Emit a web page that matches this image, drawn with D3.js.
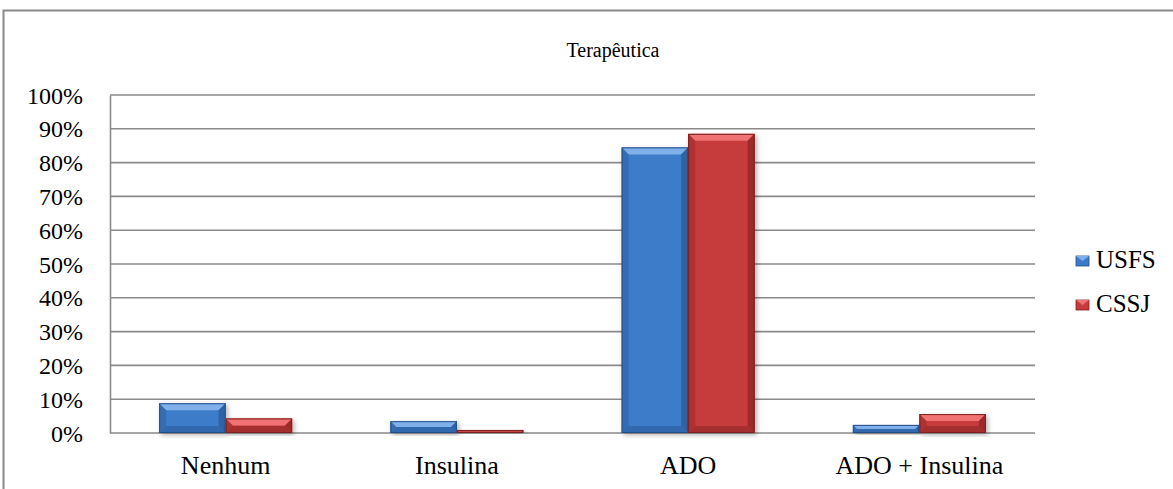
<!DOCTYPE html>
<html>
<head>
<meta charset="utf-8">
<script src="https://cdn.jsdelivr.net/npm/d3@7"></script>
<style>
  html, body { margin: 0; padding: 0; background: #fff; }
  svg { display: block; font-family: "Liberation Serif", "Times New Roman", serif; }
</style>
</head>
<body>
<svg id="chart" width="1173" height="489"></svg>
<script>
// Therapy distribution by health unit
const categories = ["Nenhum", "Insulina", "ADO", "ADO + Insulina"];
const seriesNames = ["USFS", "CSSJ"];
const usfsValues = [8.8, 3.5, 84.5, 2.4];
const cssjValues = [4.3, 0.9, 88.5, 5.6];
const yTicks = [0, 10, 20, 30, 40, 50, 60, 70, 80, 90, 100];
const title = "Terapêutica";

const palette = {
  USFS: { main: "#3d7bc9", light: "#7fb0ea", dark: "#2f64a6", darker: "#24508a" },
  CSSJ: { main: "#c63a3a", light: "#f07272", dark: "#9c2c2c", darker: "#7d2222" }
};

const svg = d3.select("#chart");
const W = 1173, H = 489;
const plot = { left: 110, right: 1035, top: 95, bottom: 433 };
const serif = "Liberation Serif, Times New Roman, serif";

// outer chart frame (continues past the bottom/right edge)
svg.append("rect")
  .attr("x", 3.5).attr("y", 10.5)
  .attr("width", W + 20).attr("height", H + 20)
  .attr("fill", "none").attr("stroke", "#8a8a8a").attr("stroke-width", 2);

const x0 = d3.scaleBand().domain(categories).range([plot.left, plot.right]).paddingInner(0).paddingOuter(0);
const groupWidth = x0.bandwidth() * 0.575;
const x1 = d3.scaleBand().domain(seriesNames).range([0, groupWidth]).padding(0);
const y = d3.scaleLinear().domain([0, 100]).range([plot.bottom, plot.top]);

// gridlines
svg.append("g").selectAll("line").data(yTicks).join("line")
  .attr("x1", plot.left).attr("x2", plot.right)
  .attr("y1", d => y(d)).attr("y2", d => y(d))
  .attr("stroke", "#8a8a8a").attr("stroke-width", 1.6);

// y axis
const yAxis = d3.axisLeft(y).tickValues(yTicks).tickSize(0).tickFormat(d => d + "%");
const gy = svg.append("g").attr("transform", `translate(${plot.left},0)`).call(yAxis);
gy.select(".domain").attr("stroke", "#8a8a8a").attr("stroke-width", 1.6);
gy.selectAll(".tick text")
  .attr("x", -27).attr("dy", "0.34em").attr("font-size", 24).attr("fill", "#000")
  .attr("font-family", serif);

// x axis labels
const xAxis = d3.axisBottom(x0).tickSize(0);
const gx = svg.append("g").attr("transform", `translate(0,${plot.bottom})`).call(xAxis);
gx.select(".domain").remove();
gx.selectAll(".tick text")
  .attr("dy", 0).attr("y", 41).attr("font-size", 26).attr("fill", "#000")
  .attr("font-family", serif);

// shadow filter for the bars
const defs = svg.append("defs");
const f = defs.append("filter").attr("id", "shadow").attr("x", "-20%").attr("y", "-20%").attr("width", "140%").attr("height", "140%");
f.append("feGaussianBlur").attr("in", "SourceAlpha").attr("stdDeviation", 2.5);
f.append("feOffset").attr("dx", 2).attr("dy", 2).attr("result", "b");
f.append("feComponentTransfer").append("feFuncA").attr("type", "linear").attr("slope", 0.3);
const fm = f.append("feMerge");
fm.append("feMergeNode");
fm.append("feMergeNode").attr("in", "SourceGraphic");

// bevelled bar drawing
function bevelBar(g, bx, by, w, h, c) {
  if (h <= 0) return;
  const b = Math.min(7, h / 2, w / 2);
  const x2 = bx + w, y2 = by + h;
  const pts = arr => arr.map(p => p.join(",")).join(" ");
  const grp = g.append("g").attr("filter", "url(#shadow)");
  grp.append("rect").attr("x", bx).attr("y", by).attr("width", w).attr("height", h).attr("fill", c.main);
  grp.append("polygon").attr("points", pts([[bx, by], [x2, by], [x2 - b, by + b], [bx + b, by + b]])).attr("fill", c.light);
  grp.append("polygon").attr("points", pts([[bx, by], [bx + b, by + b], [bx + b, y2 - b], [bx, y2]])).attr("fill", c.dark).attr("opacity", 0.6);
  grp.append("polygon").attr("points", pts([[x2, by], [x2, y2], [x2 - b, y2 - b], [x2 - b, by + b]])).attr("fill", c.dark);
  grp.append("polygon").attr("points", pts([[bx, y2], [x2, y2], [x2 - b, y2 - b], [bx + b, y2 - b]])).attr("fill", c.dark).attr("opacity", 0.8);
  grp.append("rect").attr("x", bx + 0.5).attr("y", by + 0.5).attr("width", w - 1).attr("height", h - 1)
    .attr("fill", "none").attr("stroke", c.darker).attr("stroke-width", 1);
}

const seriesData = { USFS: usfsValues, CSSJ: cssjValues };
const barsG = svg.append("g");
categories.forEach((cat, i) => {
  const gx0 = x0(cat) + (x0.bandwidth() - groupWidth) / 2;
  seriesNames.forEach(s => {
    const v = seriesData[s][i];
    bevelBar(barsG, gx0 + x1(s), y(v), x1.bandwidth(), y(0) - y(v), palette[s]);
  });
});

// title
svg.append("text").attr("x", 613).attr("y", 57)
  .attr("text-anchor", "middle").attr("font-size", 20).attr("fill", "#000").text(title);

// legend
const legend = svg.append("g").attr("transform", "translate(1076,256)");
seriesNames.forEach((s, i) => {
  const row = legend.append("g").attr("transform", `translate(0,${i * 44})`);
  const c = palette[s];
  row.append("rect").attr("x", 0).attr("y", 0).attr("width", 13).attr("height", 10).attr("fill", c.main).attr("stroke", c.darker).attr("stroke-width", 0.8);
  row.append("polygon").attr("points", "0,0 13,0 6.5,5").attr("fill", c.light);
  row.append("text").attr("x", 20).attr("y", 12).attr("font-size", 25).attr("fill", "#000").text(s);
});
</script>
</body>
</html>
